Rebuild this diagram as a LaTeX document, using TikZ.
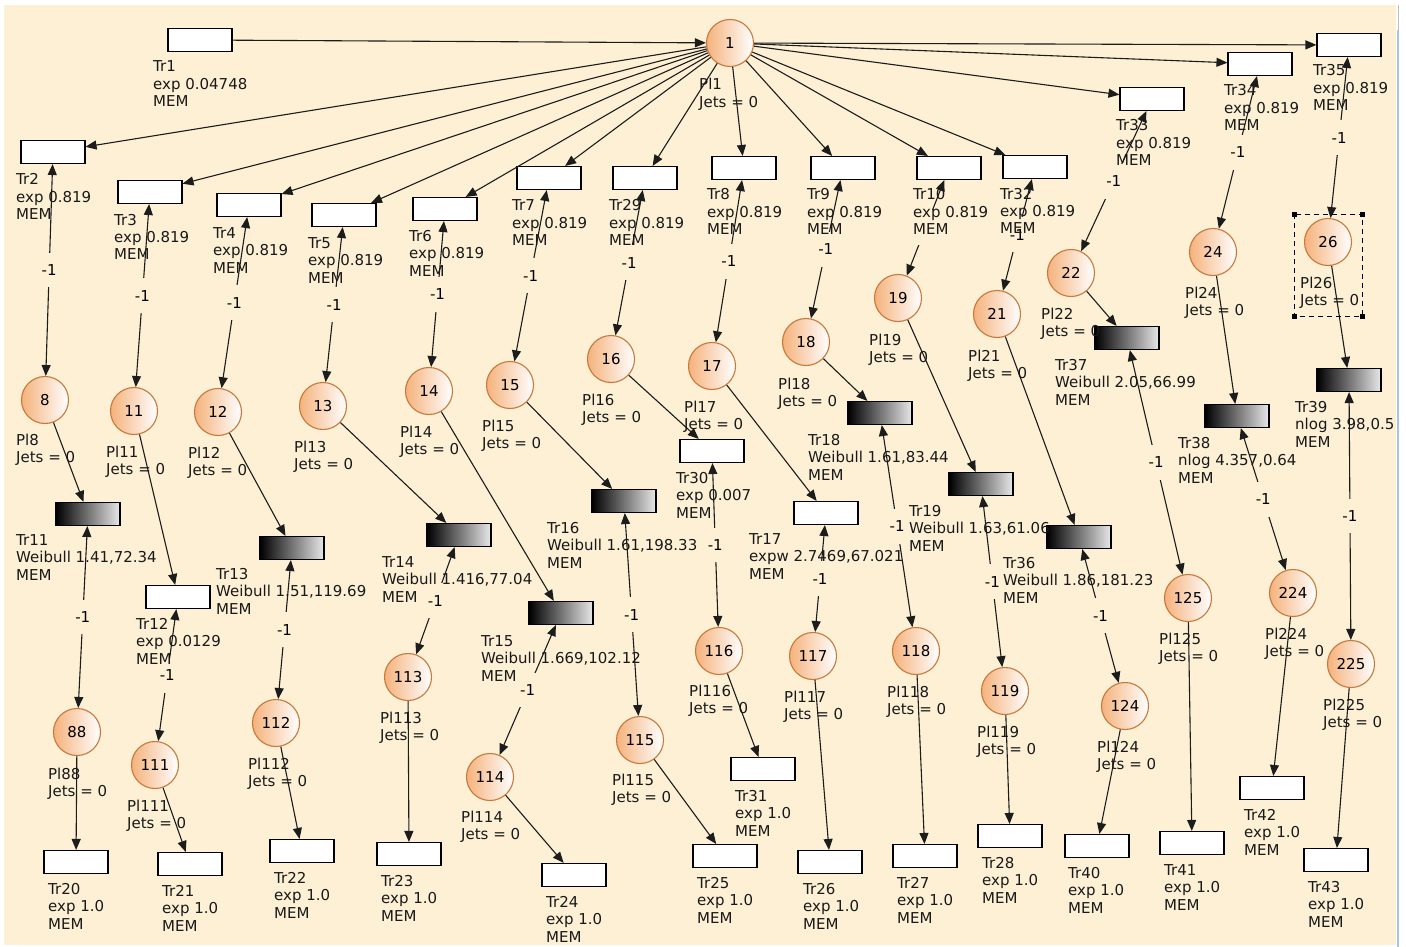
\documentclass[tikz,border=0pt]{standalone}
\usepackage{fontspec}
\setmainfont{DejaVu Sans}
\usetikzlibrary{arrows.meta}
\definecolor{cream}{HTML}{FDF0D5}
\definecolor{placeedge}{HTML}{C8783A}
\definecolor{placefill}{HTML}{F5B27C}
\definecolor{arcink}{HTML}{1C1C1C}
\definecolor{frameblue}{HTML}{A9C4E4}
% three-line transition caption / two-line place caption, baseline = first line
\newcommand\tlines[3]{\vtop{\hbox{#1}\hbox{#2}\hbox{#3}}}
\newcommand\plines[1]{\vtop{\hbox{Pl#1}\hbox{Jets = 0}}}
\tikzset{
  every node/.style={font=\fontsize{15}{17.5}\selectfont},
  trans/.style={rectangle, draw=black, line width=1.1pt, fill=white,
    minimum width=64pt, minimum height=23pt, inner sep=0pt},
  timed/.style={trans, left color=black, right color=white!91!black},
  place/.style={circle, draw=placeedge, line width=1.1pt, minimum size=47pt,
    inner sep=0pt, left color=placefill, right color=white},
  arc/.style={line width=1.1pt, draw=arcink, -{Triangle[length=11pt,width=9pt]}},
  darc/.style={line width=1.1pt, draw=arcink,
    {Triangle[length=11pt,width=9pt]}-{Triangle[length=11pt,width=9pt]}},
  wt/.style={fill=cream, inner xsep=3pt, inner ysep=12pt, text=black},
  lbl/.style={anchor=base west, inner sep=0pt, text=black!90}
}
\begin{document}
\begin{tikzpicture}[x=1pt,y=-1pt]
\useasboundingbox (0,0) rectangle (1406,947);
% window frame
\fill[white] (0,0) rectangle (1406,947);
\fill[cream] (4,5) rectangle (1396,945);
\draw[black!25, line width=1pt] (1398,5) -- (1398,30);
\draw[frameblue, line width=1.5pt] (1398,30) -- (1398,947);
\begin{scope}
\clip (4,5) rectangle (1396,945);

% ---------- places ----------
\node[place] (p1)   at (730,43)  {1};
\node[place] (p8)   at (45,400)  {8};
\node[place] (p11)  at (134,411) {11};
\node[place] (p12)  at (218,412) {12};
\node[place] (p13)  at (323,406) {13};
\node[place] (p14)  at (429,391) {14};
\node[place] (p15)  at (510,385) {15};
\node[place] (p16)  at (611,359) {16};
\node[place] (p17)  at (712,366) {17};
\node[place] (p18)  at (806,342) {18};
\node[place] (p19)  at (898,298) {19};
\node[place] (p21)  at (997,314) {21};
\node[place] (p22)  at (1071,273) {22};
\node[place] (p24)  at (1213,252) {24};
\node[place] (p26)  at (1328,242) {26};
\node[place] (p88)  at (77,732)  {88};
\node[place] (p111) at (155,765) {111};
\node[place] (p112) at (276,723) {112};
\node[place] (p113) at (408,677) {113};
\node[place] (p114) at (490,777) {114};
\node[place] (p115) at (640,740) {115};
\node[place] (p116) at (719,651) {116};
\node[place] (p117) at (813,656) {117};
\node[place] (p118) at (916,651) {118};
\node[place] (p119) at (1005,691) {119};
\node[place] (p124) at (1125,706) {124};
\node[place] (p125) at (1188,598) {125};
\node[place] (p224) at (1293,593) {224};
\node[place] (p225) at (1351,664) {225};

% ---------- immediate / exponential transitions ----------
\node[trans] (t1)  at (200,40)  {};
\node[trans] (t2)  at (53,152)  {};
\node[trans] (t3)  at (150,192) {};
\node[trans] (t4)  at (249,205) {};
\node[trans] (t5)  at (344,215) {};
\node[trans] (t6)  at (445,209) {};
\node[trans] (t7)  at (549,178) {};
\node[trans] (t29) at (645,178) {};
\node[trans] (t8)  at (744,168) {};
\node[trans] (t9)  at (843,168) {};
\node[trans] (t10) at (949,168) {};
\node[trans] (t32) at (1035,167) {};
\node[trans] (t33) at (1152,99) {};
\node[trans] (t34) at (1260,64) {};
\node[trans] (t35) at (1349,45) {};
\node[trans] (t12) at (178,597) {};
\node[trans] (t30) at (712,451) {};
\node[trans] (t17) at (826,513) {};
\node[trans] (t20) at (76,862)  {};
\node[trans] (t21) at (190,864) {};
\node[trans] (t22) at (302,851) {};
\node[trans] (t23) at (409,854) {};
\node[trans] (t24) at (574,875) {};
\node[trans] (t25) at (725,856) {};
\node[trans] (t31) at (763,769) {};
\node[trans] (t26) at (830,862) {};
\node[trans] (t27) at (925,856) {};
\node[trans] (t28) at (1010,836) {};
\node[trans] (t40) at (1097,846) {};
\node[trans] (t41) at (1192,843) {};
\node[trans] (t42) at (1272,788) {};
\node[trans] (t43) at (1336,860) {};

% ---------- Weibull / lognormal transitions ----------
\node[timed] (t11) at (88,514)  {};
\node[timed] (t13) at (292,548) {};
\node[timed] (t14) at (459,535) {};
\node[timed] (t15) at (561,613) {};
\node[timed] (t16) at (624,501) {};
\node[timed] (t18) at (880,413) {};
\node[timed] (t19) at (981,484) {};
\node[timed] (t36) at (1079,537) {};
\node[timed] (t37) at (1127,338) {};
\node[timed] (t38) at (1237,416) {};
\node[timed] (t39) at (1349,380) {};

% ---------- arcs ----------
\draw[arc] (t1) -- (p1);
\foreach \t in {t2,t3,t4,t5,t6,t7,t29,t8,t9,t10,t32,t33,t34,t35}
  \draw[arc] (p1) -- (\t);
\foreach \t/\p in {t2/p8,t3/p11,t4/p12,t5/p13,t6/p14,t7/p15,t29/p16,t8/p17,
                   t9/p18,t32/p21,t33/p22,t34/p24,t35/p26}
  \draw[darc] (\t) -- node[wt] {-1} (\p);
% weight of this arc sits under the caption of Tr10
\draw[darc] (t10) -- node[wt] {\phantom{-1}} (p19);
\foreach \p/\t in {p8/t11,p11/t12,p12/t13,p13/t14,p14/t15,p15/t16,p16/t30,
                   p17/t17,p18/t18,p19/t19,p21/t36,p22/t37,p24/t38,p26/t39}
  \draw[arc] (\p) -- (\t);
\foreach \t/\p in {t11/p88,t12/p111,t13/p112,t14/p113,t15/p114,t16/p115,
                   t30/p116,t17/p117,t18/p118,t19/p119,t36/p124,t37/p125,
                   t38/p224,t39/p225}
  \draw[darc] (\t) -- node[wt] {-1} (\p);
\foreach \p/\t in {p88/t20,p111/t21,p112/t22,p113/t23,p114/t24,p115/t25,
                   p116/t31,p117/t26,p118/t27,p119/t28,p124/t40,p125/t41,
                   p224/t42,p225/t43}
  \draw[arc] (\p) -- (\t);

% ---------- transition captions ----------
\node[lbl] (c1)  at (153,72)  {\tlines{Tr1}{exp 0.04748}{MEM}};
\node[lbl] (c2)  at (16,185)  {\tlines{Tr2}{exp 0.819}{MEM}};
\node[lbl] (c3)  at (114,225) {\tlines{Tr3}{exp 0.819}{MEM}};
\node[lbl] (c4)  at (213,238) {\tlines{Tr4}{exp 0.819}{MEM}};
\node[lbl] (c5)  at (308,248) {\tlines{Tr5}{exp 0.819}{MEM}};
\node[lbl] (c6)  at (409,241) {\tlines{Tr6}{exp 0.819}{MEM}};
\node[lbl] (c7)  at (512,211) {\tlines{Tr7}{exp 0.819}{MEM}};
\node[lbl] (c29) at (609,211) {\tlines{Tr29}{exp 0.819}{MEM}};
\node[lbl] (c8)  at (707,200) {\tlines{Tr8}{exp 0.819}{MEM}};
\node[lbl] (c9)  at (807,200) {\tlines{Tr9}{exp 0.819}{MEM}};
\node[lbl] (c10) at (913,200) {\tlines{Tr10}{exp 0.819}{MEM}};
\node[lbl] (c32) at (1000,199) {\tlines{Tr32}{exp 0.819}{MEM}};
\node[lbl] (c33) at (1116,131) {\tlines{Tr33}{exp 0.819}{MEM}};
\node[lbl] (c34) at (1224,96)  {\tlines{Tr34}{exp 0.819}{MEM}};
\node[lbl] (c35) at (1313,76)  {\tlines{Tr35}{exp 0.819}{MEM}};
\node[lbl] (c11) at (16,545)  {\tlines{Tr11}{Weibull 1.41,72.34}{MEM}};
\node[lbl] (c12) at (136,629) {\tlines{Tr12}{exp 0.0129}{MEM}};
\node[lbl] (c13) at (216,579) {\tlines{Tr13}{Weibull 1.51,119.69}{MEM}};
\node[lbl] (c14) at (382,567) {\tlines{Tr14}{Weibull 1.416,77.04}{MEM}};
\node[lbl] (c15) at (481,646) {\tlines{Tr15}{Weibull 1.669,102.12}{MEM}};
\node[lbl] (c16) at (547,533) {\tlines{Tr16}{Weibull 1.61,198.33}{MEM}};
\node[lbl] (c30) at (676,483) {\tlines{Tr30}{exp 0.007}{MEM}};
\node[lbl] (c17) at (749,544) {\tlines{Tr17}{expw 2.7469,67.021}{MEM}};
\node[lbl] (c18) at (808,445) {\tlines{Tr18}{Weibull 1.61,83.44}{MEM}};
\node[lbl] (c19) at (909,516) {\tlines{Tr19}{Weibull 1.63,61.06}{MEM}};
\node[lbl] (c36) at (1003,568) {\tlines{Tr36}{Weibull 1.86,181.23}{MEM}};
\node[lbl] (c37) at (1055,370) {\tlines{Tr37}{Weibull 2.05,66.99}{MEM}};
\node[lbl] (c38) at (1178,448) {\tlines{Tr38}{nlog 4.357,0.64}{MEM}};
\node[lbl] (c39) at (1295,412) {\tlines{Tr39}{nlog 3.98,0.5}{MEM}};
\node[lbl] (c20) at (48,894)  {\tlines{Tr20}{exp 1.0}{MEM}};
\node[lbl] (c21) at (162,896) {\tlines{Tr21}{exp 1.0}{MEM}};
\node[lbl] (c22) at (274,883) {\tlines{Tr22}{exp 1.0}{MEM}};
\node[lbl] (c23) at (381,886) {\tlines{Tr23}{exp 1.0}{MEM}};
\node[lbl] (c24) at (546,907) {\tlines{Tr24}{exp 1.0}{MEM}};
\node[lbl] (c25) at (697,888) {\tlines{Tr25}{exp 1.0}{MEM}};
\node[lbl] (c31) at (735,801) {\tlines{Tr31}{exp 1.0}{MEM}};
\node[lbl] (c26) at (803,894) {\tlines{Tr26}{exp 1.0}{MEM}};
\node[lbl] (c27) at (897,888) {\tlines{Tr27}{exp 1.0}{MEM}};
\node[lbl] (c28) at (982,868) {\tlines{Tr28}{exp 1.0}{MEM}};
\node[lbl] (c40) at (1068,878) {\tlines{Tr40}{exp 1.0}{MEM}};
\node[lbl] (c41) at (1164,875) {\tlines{Tr41}{exp 1.0}{MEM}};
\node[lbl] (c42) at (1244,820) {\tlines{Tr42}{exp 1.0}{MEM}};
\node[lbl] (c43) at (1308,892) {\tlines{Tr43}{exp 1.0}{MEM}};

% ---------- place captions ----------
\node[lbl] (q1)   at (699,90)   {\plines{1}};
\node[lbl] (q8)   at (16,445)   {\plines{8}};
\node[lbl] (q11)  at (106,457)  {\plines{11}};
\node[lbl] (q12)  at (188,458)  {\plines{12}};
\node[lbl] (q13)  at (294,452)  {\plines{13}};
\node[lbl] (q14)  at (400,437)  {\plines{14}};
\node[lbl] (q15)  at (482,431)  {\plines{15}};
\node[lbl] (q16)  at (582,405)  {\plines{16}};
\node[lbl] (q17)  at (684,412)  {\plines{17}};
\node[lbl] (q18)  at (778,389)  {\plines{18}};
\node[lbl] (q19)  at (869,345)  {\plines{19}};
\node[lbl] (q21)  at (968,361)  {\plines{21}};
\node[lbl] (q22)  at (1041,319) {\plines{22}};
\node[lbl] (q24)  at (1185,298) {\plines{24}};
\node[lbl] (q26)  at (1300,288) {\plines{26}};
\node[lbl] (q88)  at (48,779)   {\plines{88}};
\node[lbl] (q111) at (127,811)  {\plines{111}};
\node[lbl] (q112) at (248,769)  {\plines{112}};
\node[lbl] (q113) at (380,723)  {\plines{113}};
\node[lbl] (q114) at (461,822)  {\plines{114}};
\node[lbl] (q115) at (612,785)  {\plines{115}};
\node[lbl] (q116) at (689,696)  {\plines{116}};
\node[lbl] (q117) at (784,702)  {\plines{117}};
\node[lbl] (q118) at (887,697)  {\plines{118}};
\node[lbl] (q119) at (977,737)  {\plines{119}};
\node[lbl] (q124) at (1097,752) {\plines{124}};
\node[lbl] (q125) at (1159,644) {\plines{125}};
\node[lbl] (q224) at (1265,639) {\plines{224}};
\node[lbl] (q225) at (1323,710) {\plines{225}};

% ---------- selection frame around place 26 ----------
\draw[black, line width=0.9pt, dash pattern=on 5pt off 4pt] (1294,214) rectangle (1362,316);
\foreach \x/\y in {1294/214,1362/214,1294/316,1362/316}
  \fill[black] (\x,\y) +(-2.5,-2.5) rectangle +(2.5,2.5);
\end{scope}
\end{tikzpicture}
\end{document}
